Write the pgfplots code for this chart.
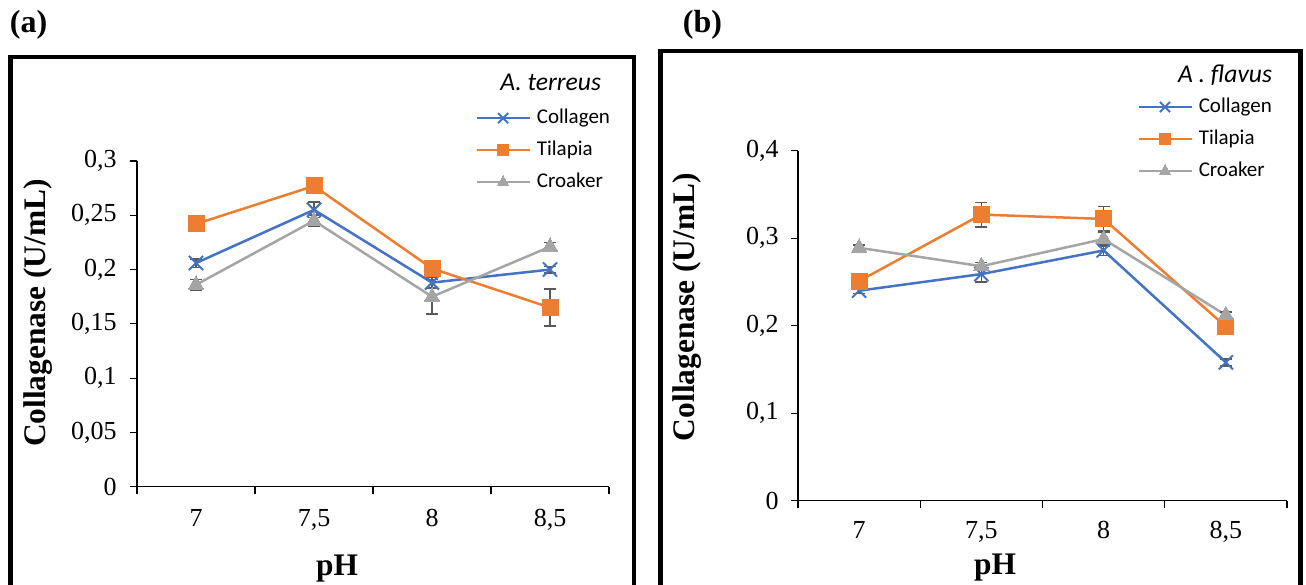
\documentclass[border=0pt]{standalone}
\usepackage{fontspec}
\setmainfont{Liberation Serif}
\newfontfamily\calibri{Carlito}
\newfontfamily\tnr{Liberation Serif}
\usepackage{pgfplots}
\pgfplotsset{compat=1.18}

\definecolor{cblue}{HTML}{4472C4}
\definecolor{corange}{HTML}{ED7D31}
\definecolor{cgray}{HTML}{A5A5A5}
\definecolor{cerr}{HTML}{595959}

\pgfplotsset{
  myaxis/.style={
    scale only axis,
    clip=false,
    axis lines=left,
    axis line style={-, line width=0.6pt},
    xmin=-0.5, xmax=3.5, ymin=0,
    xtick={-0.5,0.5,1.5,2.5,3.5},
    xticklabels={,,,,},
    extra x ticks={0,1,2,3},
    extra x tick labels={7,{7,5},8,{8,5}},
    extra x tick style={major tick length=0pt},
    tick align=outside,
    major tick length=3.5pt,
    tick style={line width=0.6pt, black},
    /pgf/number format/.cd, use comma, fixed, precision=2, assume math mode=true,
    /pgfplots/.cd,
    every tick label/.append style={font=\tnr\fontsize{13}{15}\selectfont, inner sep=0pt},
    legend style={draw=none, fill=none, inner sep=0pt, row sep=5.5pt,
      font=\calibri\fontsize{10.5}{12}\selectfont,
      nodes={inner sep=0pt, text height=8pt, text depth=2.5pt},
      column sep=3pt, anchor=north west},
    legend cell align=left,
    legend image code/.code={\draw[mark repeat=2,mark phase=2,##1,every mark/.append style={scale=0.72}] plot coordinates {(0pt,0pt) (13.25pt,0pt) (26.5pt,0pt)};},
    ylabel={Collagenase (U/mL)},
    xlabel={pH},
    label style={font=\tnr\bfseries\fontsize{15.7}{18}\selectfont},
  },
  sColl/.style={color=cblue, line width=1.25pt, mark=x, mark size=5pt, mark options={line width=1pt}},
  sTil/.style={color=corange, line width=1.25pt, mark=square*, mark size=4pt, mark options={line width=0pt}},
  sCro/.style={color=cgray, line width=1.25pt, mark=triangle*, mark size=4.5pt, mark options={line width=0pt}},
  myerr/.style={error bars/.cd, y dir=both, y explicit,
    error bar style={color=cerr, line width=0.8pt},
    error mark options={rotate=90, mark size=3pt, color=cerr, line width=0.8pt}},
}

\pgfplotstableread{
x y e
0 0.206 0.004
1 0.255 0.007
2 0.188 0.005
3 0.200 0.003
}\aColl
\pgfplotstableread{
x y e
0 0.242 0.002
1 0.277 0.002
2 0.201 0.003
3 0.165 0.017
}\aTil
\pgfplotstableread{
x y e
0 0.186 0.005
1 0.245 0.005
2 0.175 0.016
3 0.221 0.004
}\aCro
\pgfplotstableread{
x y e
0 0.240 0.003
1 0.259 0.009
2 0.286 0.006
3 0.158 0.004
}\bColl
\pgfplotstableread{
x y e
0 0.251 0.003
1 0.327 0.014
2 0.322 0.014
3 0.199 0.003
}\bTil
\pgfplotstableread{
x y e
0 0.289 0.003
1 0.268 0.004
2 0.299 0.008
3 0.212 0.004
}\bCro

\begin{document}
\begin{tikzpicture}
\useasboundingbox (0,0) rectangle (653pt,292pt);

% panel (a)
\begin{axis}[myaxis,
  at={(68.5pt,48.65pt)}, anchor=south west,
  width=236pt, height=162.85pt,
  ymax=0.3, ytick={0,0.05,0.1,0.15,0.2,0.25,0.3},
  xticklabel shift=11pt, yticklabel shift=6.5pt,
  xlabel style={at={(axis description cs:0.424,-0.25)}, anchor=center},
  ylabel style={at={(axis description cs:-0.2087,0.533)}, anchor=center},
  legend style={at={(axis description cs:0.716,1.165)}},
]
\addplot[sColl, myerr] table[x=x, y=y, y error=e] {\aColl};
\addlegendentry{Collagen}
\addplot[sTil, myerr] table[x=x, y=y, y error=e] {\aTil};
\addlegendentry{Tilapia}
\addplot[sCro, myerr] table[x=x, y=y, y error=e] {\aCro};
\addlegendentry{Croaker}
\node[anchor=east, font=\calibri\itshape\fontsize{12.8}{15}\selectfont] at (axis description cs:0.998,1.24) {A. terreus};
\end{axis}

% panel (b)
\begin{axis}[myaxis,
  at={(399pt,41.65pt)}, anchor=south west,
  width=244.5pt, height=175pt,
  ymax=0.4, ytick={0,0.1,0.2,0.3,0.4},
  xticklabel shift=10pt, yticklabel shift=6pt,
  xlabel style={at={(axis description cs:0.403,-0.192)}, anchor=center},
  ylabel style={at={(axis description cs:-0.227,0.553)}, anchor=center},
  legend style={at={(axis description cs:0.693,1.156)}},
]
\addplot[sColl, myerr] table[x=x, y=y, y error=e] {\bColl};
\addlegendentry{Collagen}
\addplot[sTil, myerr] table[x=x, y=y, y error=e] {\bTil};
\addlegendentry{Tilapia}
\addplot[sCro, myerr] table[x=x, y=y, y error=e] {\bCro};
\addlegendentry{Croaker}
\node[anchor=east, font=\calibri\itshape\fontsize{12.8}{15}\selectfont] at (axis description cs:0.984,1.216) {A . flavus};
\end{axis}

% frames and panel letters
\draw[line width=2.25pt] (5.25pt,-10pt) |- (317pt,263.5pt) -- (317pt,-10pt);
\draw[line width=2.25pt] (330.25pt,-10pt) |- (650.25pt,266.5pt) -- (650.25pt,-10pt);
\node[font=\tnr\bfseries\fontsize{16}{19}\selectfont] at (14.25pt,279.5pt) {(a)};
\node[font=\tnr\bfseries\fontsize{16}{19}\selectfont] at (351.25pt,279.5pt) {(b)};
\end{tikzpicture}
\end{document}
